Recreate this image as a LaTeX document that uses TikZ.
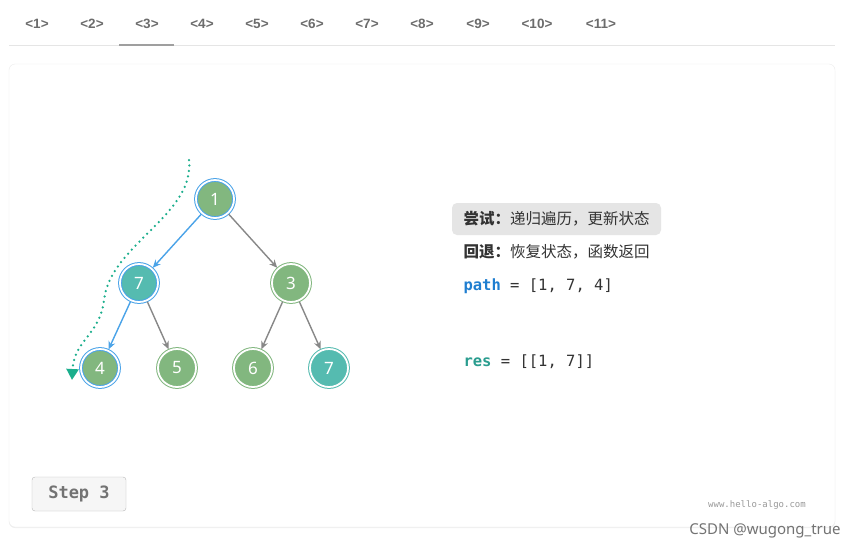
\documentclass[tikz,border=0pt]{standalone}
\usepackage{fontspec}
\setmainfont{Noto Sans}
\setsansfont{Noto Sans}
\setmonofont{DejaVu Sans Mono}
\newfontfamily\cjk{Noto Sans CJK SC}
\newfontfamily\tabfont{Liberation Sans}
\usetikzlibrary{arrows.meta,shadows}
\definecolor{ngreen}{HTML}{82B77F}
\definecolor{nteal}{HTML}{55BBB0}
\definecolor{rblue}{HTML}{4AA3E8}
\definecolor{rgreen}{HTML}{82B77F}
\definecolor{eblue}{HTML}{4AA3E8}
\definecolor{egray}{HTML}{888888}
\definecolor{dotc}{HTML}{1AAE8C}
\definecolor{pathc}{HTML}{1F7ED0}
\definecolor{resc}{HTML}{2A9D8F}
\definecolor{txtc}{HTML}{333333}
\tikzset{
  tn/.style={circle,minimum size=38pt,inner sep=0pt,text=white,font=\sffamily\fontsize{17}{17}\selectfont,
    double distance=1.8pt,line width=1pt},
  greenn/.style={tn,fill=ngreen,draw=rgreen},
  tealn/.style={tn,fill=nteal,draw=nteal},
  onpath/.style={draw=rblue},
  edge/.style={-{Stealth[length=8pt,width=7pt]},line width=1.4pt,shorten >=1pt,shorten <=1pt},
  tab/.style={text=gray!85!black,font=\tabfont\bfseries\fontsize{13.5}{13.5}\selectfont},
  cn/.style={font=\cjk\fontsize{15.5}{15.5}\selectfont,text=txtc,anchor=west},
  code/.style={font=\ttfamily\fontsize{15.5}{15.5}\selectfont,text=txtc,anchor=west}
}
\begin{document}
\begin{tikzpicture}[x=1pt,y=-1pt]
\useasboundingbox (0,0) rectangle (860,550);
\fill[white] (0,0) rectangle (860,550);
% tabs
\foreach \t/\x in {1/37,2/92,3/147,4/202,5/257,6/312,7/367,8/422,9/478,10/537,11/601}
  \node[tab] (tab\t) at (\x,24) {<\t>};
\draw[gray!20,line width=1pt] (9,45) -- (835,45);
\draw[gray!75,line width=2pt] (119,45) -- (174,45);
% card
\node[draw=gray!15,fill=white,rounded corners=6pt,minimum width=826pt,minimum height=463pt,
  drop shadow={shadow xshift=0pt,shadow yshift=-1pt,opacity=0.12}] (card) at (422,295.5) {};
% tree nodes
\node[greenn,onpath] (n1) at (215,199) {1};
\node[tealn,onpath] (n7) at (139,283) {7};
\node[greenn] (n3) at (291,283) {3};
\node[greenn,onpath] (n4) at (100,368) {4};
\node[greenn] (n5) at (177,368) {5};
\node[greenn] (n6) at (253,368) {6};
\node[tealn] (n7b) at (329,368) {7};
% edges
\draw[edge,eblue] (n1) -- (n7);
\draw[edge,egray] (n1) -- (n3);
\draw[edge,eblue] (n7) -- (n4);
\draw[edge,egray] (n7) -- (n5);
\draw[edge,egray] (n3) -- (n6);
\draw[edge,egray] (n3) -- (n7b);
% dotted path
\coordinate (ds) at (189,160);
\coordinate (de) at (72,380);
\draw[dotc,line width=2.5pt,dash pattern=on 0pt off 5.5pt,line cap=round,
  -{Triangle[length=11pt,width=12pt,line cap=butt]}]
  (ds) .. controls (195,215) and (110,245) .. (104,300)
  .. controls (100,335) and (74,340) .. (de);
% text
\node[fill=gray!20,rounded corners=5pt,minimum width=209pt,minimum height=32pt] (hl) at (556.5,219) {};
\node[cn] (t1) at (460,219) {\textbf{尝试：}递归遍历，更新状态};
\node[cn] (t2) at (460,252) {\textbf{回退：}恢复状态，函数返回};
\node[code] (t3) at (460,286) {\textbf{\color{pathc}path} = [1, 7, 4]};
\node[code] (t4) at (460,362) {\textbf{\color{resc}res} = [[1, 7]]};
% step button
\node[draw=gray!55,fill=gray!7,rounded corners=3pt,minimum width=94pt,minimum height=34pt,
  font=\ttfamily\bfseries\fontsize{17}{17}\selectfont,text=gray!90!black] (step) at (79,494) {Step 3};
\node[font=\ttfamily\fontsize{9}{9}\selectfont,text=gray!80] (www) at (757,505) {www.hello-algo.com};
\node[font=\sffamily\fontsize{15}{15}\selectfont,text=gray!90!black] (csdn) at (765,531) {CSDN @wugong\_true};
\end{tikzpicture}
\end{document}
